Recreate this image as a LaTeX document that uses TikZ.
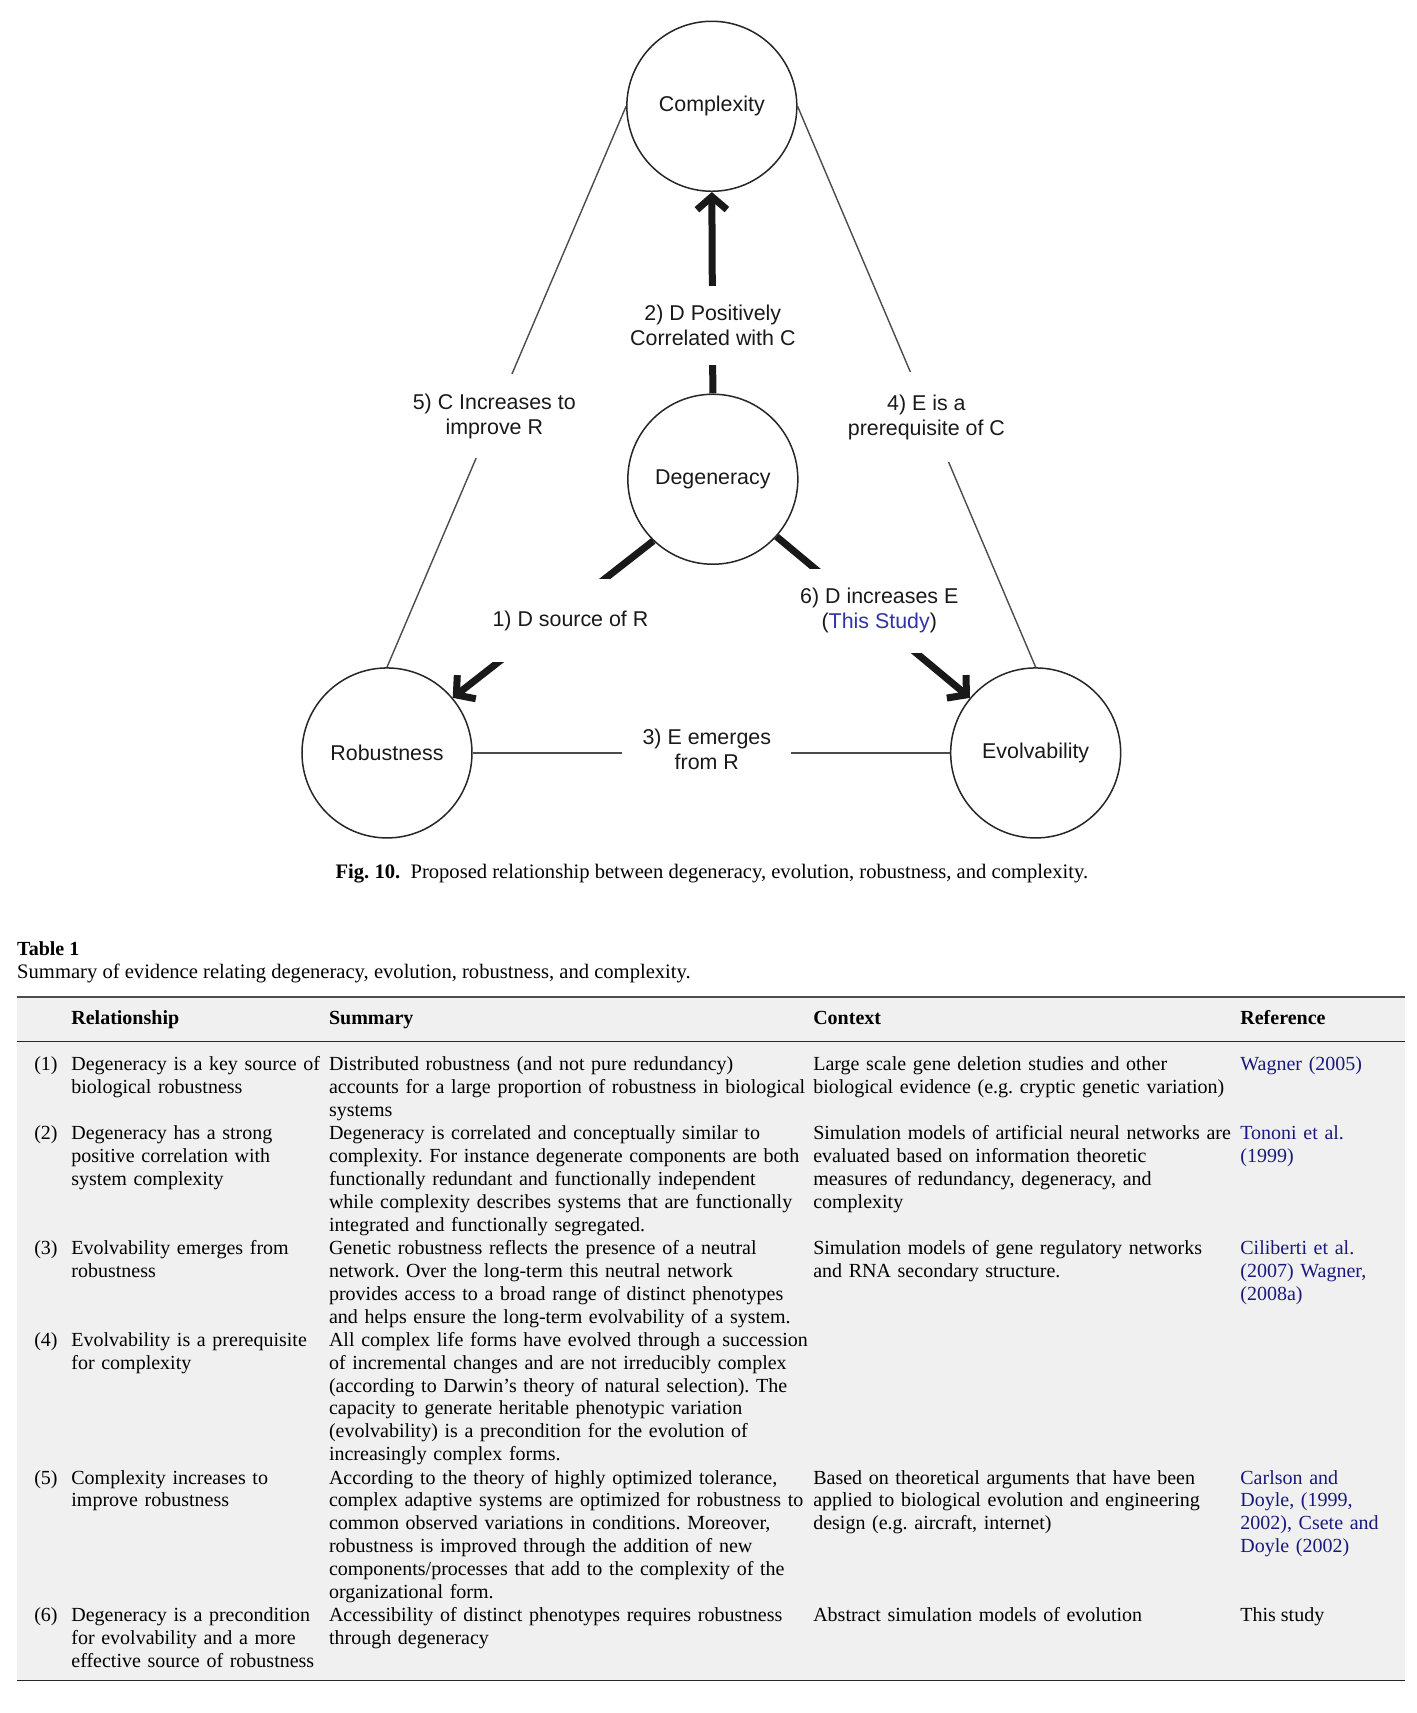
\documentclass[tikz,border=0pt]{standalone}
\usepackage{fontspec}
\setmainfont{Liberation Serif}
\newfontfamily\diagfont{Liberation Sans}
\usetikzlibrary{arrows.meta}
\definecolor{refblue}{RGB}{25,25,125}
\definecolor{studyblue}{RGB}{50,50,170}
\definecolor{tablegray}{RGB}{240,240,240}
\frenchspacing
\begin{document}
\begin{tikzpicture}[x=1.0026pt,y=-1.0026pt,
  circ/.style={circle, draw=black!85, line width=1.5pt, minimum size=170pt, inner sep=0pt,
    font=\diagfont\fontsize{21.4pt}{25pt}\selectfont, text=black!90},
  thinline/.style={draw=black!70, line width=1.4pt},
  heavyarrow/.style={draw=black!90, line width=7pt, -{Straight Barb[length=13pt,width=30pt]}},
  lab/.style={fill=white, inner sep=0pt, align=center,
    font=\diagfont\fontsize{21.4pt}{25pt}\selectfont, text=black!90},
  cell/.style={anchor=base west, inner sep=0pt, align=left,
    font=\fontsize{20pt}{22.9pt}\selectfont},
  capt/.style={inner sep=0pt, font=\fontsize{20.6pt}{22.9pt}\selectfont},
  hd/.style={anchor=base west, inner sep=0pt, font=\fontsize{20pt}{22.9pt}\selectfont\bfseries},
  relc/.style={cell, text width=340pt},
  sumc/.style={cell, text width=520pt},
  ctxc/.style={cell, text width=460pt},
  refc/.style={cell, text width=190pt, text=refblue}
]
\useasboundingbox (0,0) rectangle (1413.3,1708.6);
\fill[white] (0,0) rectangle (1413.3,1708.6);

% ---------- diagram ----------
\node[circ] (com) at (710,106) {Complexity};
\node[circ] (deg) at (711,478) {Degeneracy};
\node[circ] (rob) at (386,751) {Robustness};
\node[circ] (evo) at (1033,751) {Evolvability};

\draw[thinline] (com.west) -- (rob.north);
\draw[thinline] (com.east) -- (evo.north);
\draw[thinline] (rob.east) -- (evo.west);
\draw[heavyarrow] (deg.north) -- (com.south);
\draw[heavyarrow] (deg.226) -- (rob.40);
\draw[heavyarrow] (deg.318) -- (evo.140);

\node[lab, minimum height=79pt] (l2) at (711,325) {2) D Positively\\Correlated with C};
\node[lab, minimum height=84pt] (l5) at (493,415) {5) C Increases to\\improve R};
\node[lab, minimum height=90pt] (l4) at (924,416) {4) E is a\\prerequisite of C};
\node[lab, minimum width=169pt] (l3) at (705,747) {3) E emerges\\from R};
\node[lab, minimum height=83pt] (l1) at (569,619) {1) D source of R};
\node[lab, minimum height=84pt] (l6) at (877,609) {6) D increases E\\(\textcolor{studyblue}{This Study})};

\node[capt, anchor=base] (cap) at (710,876)
  {\textbf{Fig. 10.}\ \ Proposed relationship between degeneracy, evolution, robustness, and complexity.};

% ---------- table ----------
\node[hd] (ttl) at (17,953) {Table 1};
\node[capt, anchor=base west] (sub) at (17,976) {Summary of evidence relating degeneracy, evolution, robustness, and complexity.};

\fill[tablegray] (17,994) rectangle (1401,1676);
\draw[line width=2pt, black!70] (17,994) -- (1401,994);
\draw[line width=1.6pt, black!85] (17,1039) -- (1401,1039);
\draw[line width=1.6pt, black!85] (17,1676) -- (1401,1676);

\node[hd] (hrel) at (71,1022) {Relationship};
\node[hd] (hsum) at (328,1022) {Summary};
\node[hd] (hctx) at (811,1022) {Context};
\node[hd] (href) at (1237,1022) {Reference};

% row 1
\node[cell] (n1) at (34,1068) {(1)};
\node[relc] (r1rel) at (71,1068) {Degeneracy is a key source of\\biological robustness};
\node[sumc] (r1sum) at (328,1068) {Distributed robustness (and not pure redundancy)\\accounts for a large proportion of robustness in biological\\systems};
\node[ctxc] (r1ctx) at (811,1068) {Large scale gene deletion studies and other\\biological evidence (e.g. cryptic genetic variation)};
\node[refc] (r1ref) at (1237,1068) {Wagner (2005)};

% row 2
\node[cell] (n2) at (34,1136.7) {(2)};
\node[relc] (r2rel) at (71,1136.7) {Degeneracy has a strong\\positive correlation with\\system complexity};
\node[sumc] (r2sum) at (328,1136.7) {Degeneracy is correlated and conceptually similar to\\complexity. For instance degenerate components are both\\functionally redundant and functionally independent\\while complexity describes systems that are functionally\\integrated and functionally segregated.};
\node[ctxc] (r2ctx) at (811,1136.7) {Simulation models of artificial neural networks are\\evaluated based on information theoretic\\measures of redundancy, degeneracy, and\\complexity};
\node[refc] (r2ref) at (1237,1136.7) {Tononi et al.\\(1999)};

% row 3
\node[cell] (n3) at (34,1251.2) {(3)};
\node[relc] (r3rel) at (71,1251.2) {Evolvability emerges from\\robustness};
\node[sumc] (r3sum) at (328,1251.2) {Genetic robustness reflects the presence of a neutral\\network. Over the long-term this neutral network\\provides access to a broad range of distinct phenotypes\\and helps ensure the long-term evolvability of a system.};
\node[ctxc] (r3ctx) at (811,1251.2) {Simulation models of gene regulatory networks\\and RNA secondary structure.};
\node[refc] (r3ref) at (1237,1251.2) {Ciliberti et al.\\(2007) Wagner,\\(2008a)};

% row 4
\node[cell] (n4) at (34,1342.8) {(4)};
\node[relc] (r4rel) at (71,1342.8) {Evolvability is a prerequisite\\for complexity};
\node[sumc] (r4sum) at (328,1342.8) {All complex life forms have evolved through a succession\\of incremental changes and are not irreducibly complex\\(according to Darwin’s theory of natural selection). The\\capacity to generate heritable phenotypic variation\\(evolvability) is a precondition for the evolution of\\increasingly complex forms.};

% row 5
\node[cell] (n5) at (34,1480.2) {(5)};
\node[relc] (r5rel) at (71,1480.2) {Complexity increases to\\improve robustness};
\node[sumc] (r5sum) at (328,1480.2) {According to the theory of highly optimized tolerance,\\complex adaptive systems are optimized for robustness to\\common observed variations in conditions. Moreover,\\robustness is improved through the addition of new\\components/processes that add to the complexity of the\\organizational form.};
\node[ctxc] (r5ctx) at (811,1480.2) {Based on theoretical arguments that have been\\applied to biological evolution and engineering\\design (e.g. aircraft, internet)};
\node[refc] (r5ref) at (1237,1480.2) {Carlson and\\Doyle, (1999,\\2002), Csete and\\Doyle (2002)};

% row 6
\node[cell] (n6) at (34,1617.6) {(6)};
\node[relc] (r6rel) at (71,1617.6) {Degeneracy is a precondition\\for evolvability and a more\\effective source of robustness};
\node[sumc] (r6sum) at (328,1617.6) {Accessibility of distinct phenotypes requires robustness\\through degeneracy};
\node[ctxc] (r6ctx) at (811,1617.6) {Abstract simulation models of evolution};
\node[cell] (r6ref) at (1237,1617.6) {This study};
\end{tikzpicture}
\end{document}
